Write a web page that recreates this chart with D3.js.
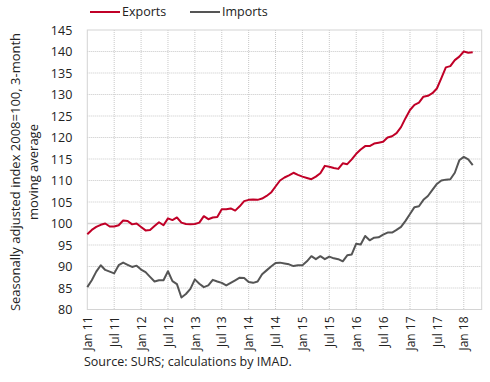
<!DOCTYPE html>
<html><head><meta charset="utf-8">
<script src="https://cdn.jsdelivr.net/npm/d3@7"></script>
<style>
body{margin:0;background:#fff;}
text{font-family:"Open Sans","Noto Sans",sans-serif;fill:#222;}
</style></head>
<body><svg id="c" width="490" height="382"></svg>
<script>
const exportsData = [97.5,98.5,99.2,99.7,100.0,99.3,99.3,99.6,100.7,100.6,99.8,100.0,99.2,98.4,98.5,99.4,100.3,99.6,101.2,100.8,101.4,100.2,99.9,99.8,99.9,100.2,101.7,101.0,101.4,101.5,103.3,103.3,103.5,103.0,104.0,105.2,105.5,105.6,105.5,105.8,106.4,107.2,108.6,110.0,110.7,111.2,111.8,111.3,110.9,110.6,110.3,110.9,111.7,113.4,113.2,112.9,112.7,114.0,113.8,114.9,116.2,117.2,118.0,118.0,118.6,118.8,119.0,120.0,120.3,121.0,122.4,124.5,126.4,127.6,128.1,129.5,129.7,130.3,131.4,133.8,136.3,136.6,138.0,138.8,140.0,139.7,139.8];
const importsData = [85.2,86.8,88.8,90.3,89.2,88.8,88.4,90.3,90.9,90.4,89.9,90.2,89.3,88.7,87.6,86.5,86.8,86.8,88.9,86.6,85.9,82.8,83.6,84.8,87.0,86.0,85.2,85.6,86.9,86.5,86.2,85.6,86.2,86.8,87.4,87.3,86.4,86.2,86.5,88.2,89.1,90.0,90.8,90.9,90.7,90.5,90.1,90.3,90.3,91.2,92.4,91.7,92.4,91.7,92.3,91.9,91.7,91.2,92.6,92.8,95.3,95.1,97.1,96.1,96.7,96.8,97.4,97.9,97.9,98.5,99.2,100.6,102.2,103.8,104.0,105.5,106.4,107.8,109.2,110.0,110.2,110.3,111.8,114.7,115.5,114.9,113.6];
const tickLabels = ["Jan 11","Jul 11","Jan 12","Jul 12","Jan 13","Jul 13","Jan 14","Jul 14","Jan 15","Jul 15","Jan 16","Jul 16","Jan 17","Jul 17","Jan 18"];
const yTicks = [80,85,90,95,100,105,110,115,120,125,130,135,140,145];
const seriesNames = ["Exports","Imports"];
const colors = ["#c00027","#555555"];

const svg = d3.select("#c");
const L=87.3,R=481.7,T=30,B=309.5;
const x = d3.scaleLinear().domain([0,88]).range([L,R]);
const y = d3.scaleLinear().domain([80,145]).range([B,T]);
const tickMonths = tickLabels.map((d,i)=>i*6);

// gridlines
const g = svg.append("g");
g.selectAll(".hg").data(yTicks.filter(v=>v!==100&&v!==80&&v!==145)).join("line")
 .attr("x1",L).attr("x2",R).attr("y1",d=>y(d)).attr("y2",d=>y(d))
 .attr("stroke","#c8c8c8").attr("stroke-width",1).attr("stroke-dasharray","1,1");
g.selectAll(".vg").data(tickMonths.filter(m=>m>0)).join("line")
 .attr("x1",d=>x(d)).attr("x2",d=>x(d)).attr("y1",T).attr("y2",B)
 .attr("stroke","#c8c8c8").attr("stroke-width",1).attr("stroke-dasharray","1,1");
g.append("line").attr("x1",L).attr("x2",R).attr("y1",y(100)).attr("y2",y(100))
 .attr("stroke","#d6d6d6").attr("stroke-width",1.5);
g.append("rect").attr("x",L).attr("y",T).attr("width",R-L).attr("height",B-T)
 .attr("fill","none").attr("stroke","#d4d4d4").attr("stroke-width",1);

// y axis labels
const yAxis = d3.axisLeft(y).tickValues(yTicks).tickSize(0).tickPadding(15);
const ya = svg.append("g").attr("transform",`translate(${L},0)`).call(yAxis);
ya.select(".domain").remove();
ya.selectAll("text").style("font-size","12.5px").style("font-family",'"Open Sans",sans-serif').attr("fill","#222");

// x axis labels
const xAxis = d3.axisBottom(x).tickValues(tickMonths).tickFormat((d,i)=>tickLabels[i]).tickSize(0);
const xa = svg.append("g").attr("transform",`translate(0,${B})`).call(xAxis);
xa.select(".domain").remove();
xa.selectAll("text").attr("transform","rotate(-90)").attr("x",-7).attr("y",0).attr("dy","0.35em")
  .style("text-anchor","end").style("font-size","12px").style("font-family",'"Open Sans",sans-serif').attr("fill","#222");

// lines
const line = d3.line().x((d,i)=>x(i)).y(d=>y(d));
[exportsData,importsData].forEach((s,k)=>{
  svg.append("path").datum(s).attr("d",line).attr("fill","none")
    .attr("stroke",colors[k]).attr("stroke-width",2).attr("stroke-linejoin","round");
});

// legend
const lg = [{x:90},{x:190}];
seriesNames.forEach((n,k)=>{
  svg.append("line").attr("x1",lg[k].x).attr("x2",lg[k].x+30).attr("y1",12).attr("y2",12)
    .attr("stroke",colors[k]).attr("stroke-width",2);
  svg.append("text").attr("x",lg[k].x+32).attr("y",12).attr("dy","0.35em")
    .style("font-size","12.5px").text(n);
});

// y title
const yt = svg.append("text").attr("transform",`translate(15,172) rotate(-90)`)
  .attr("text-anchor","middle").style("font-size","13px");
yt.append("tspan").attr("x",0).attr("dy","0.35em").text("Seasonally adjusted index 2008=100, 3-month");
yt.append("tspan").attr("x",0).attr("dy","1.4em").text("moving average");

// source
svg.append("text").attr("x",84).attr("y",366).style("font-size","12.5px").text("Source: SURS; calculations by IMAD.");
</script></body></html>
